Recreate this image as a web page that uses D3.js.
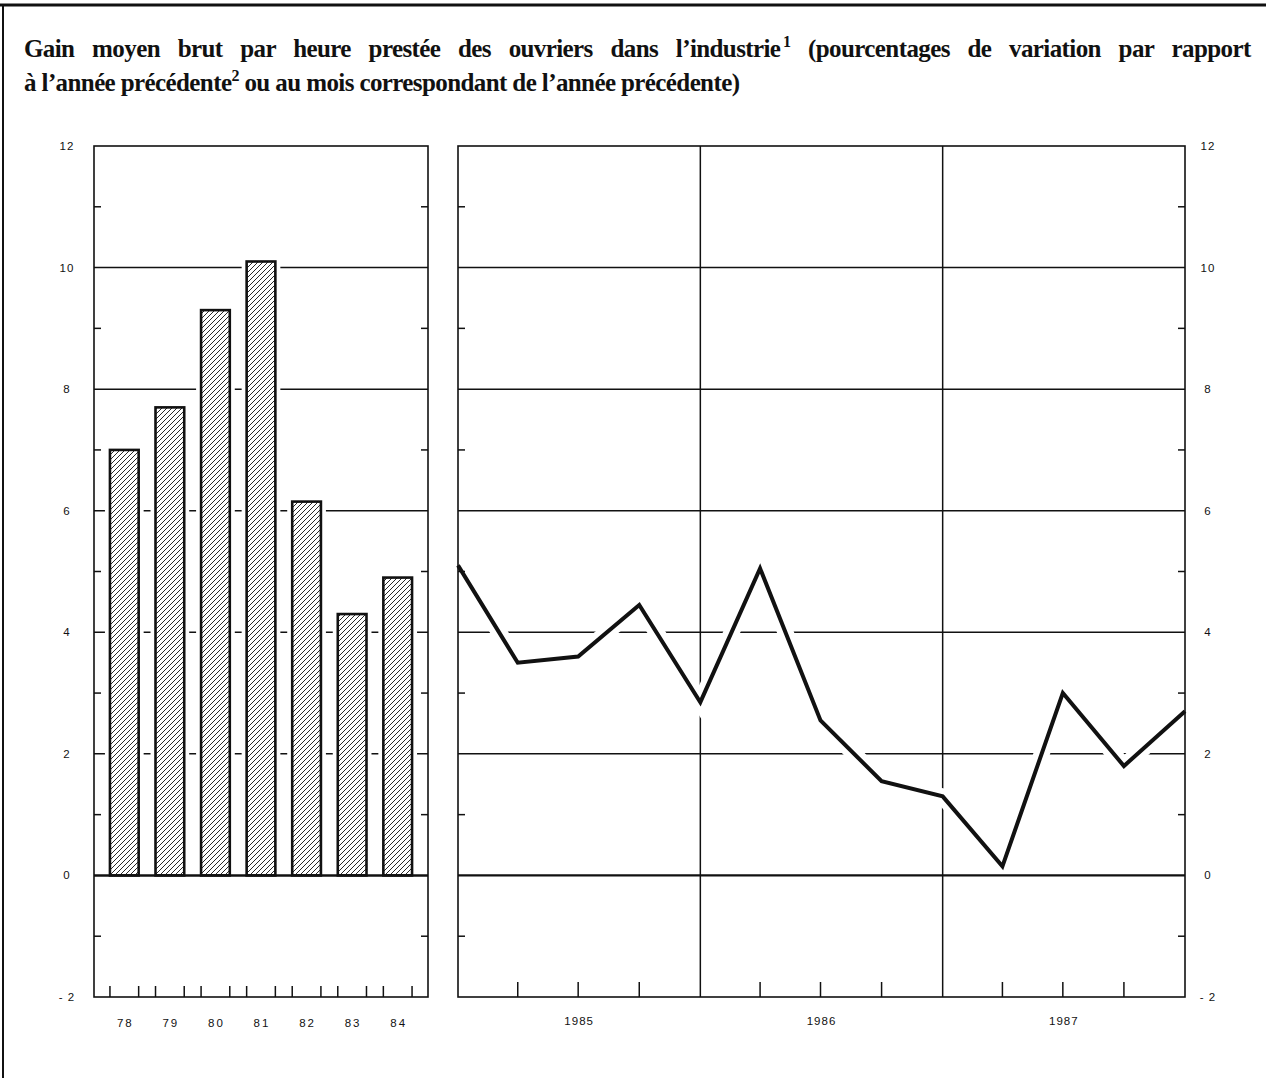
<!DOCTYPE html>
<html>
<head>
<meta charset="utf-8">
<script src="https://cdn.jsdelivr.net/npm/d3@7"></script>
<style>
  body { margin: 0; background: #fff; }
  text { fill: #111; }
</style>
</head>
<body>
<script>
// data
var barYears = ['78', '79', '80', '81', '82', '83', '84']
var barValues = [7.0, 7.7, 9.3, 10.1, 6.15, 4.3, 4.9]

var lineDates = ['1985-01', '1985-04', '1985-07', '1985-10', '1986-01', '1986-04', '1986-07',
  '1986-10', '1987-01', '1987-04', '1987-07', '1987-10', '1988-01']
var lineValues = [5.1, 3.5, 3.6, 4.45, 2.85, 5.05, 2.55, 1.55, 1.3, 0.15, 3.0, 1.8, 2.7]

var lineYears = ['1985', '1986', '1987']
var yTicks = [-2, 0, 2, 4, 6, 8, 10, 12]
var yMinor = [-1, 1, 3, 5, 7, 9, 11]
var yGrid = [2, 4, 6, 8, 10]

var parse = d3.timeParse('%Y-%m')

var width = 1266
var height = 1078
var plotTop = 146
var plotBottom = 997
var left1 = 94, right1 = 428
var left2 = 458, right2 = 1185

var svg = d3.select('body').append('svg')
  .attr('width', width)
  .attr('height', height)

// hatch pattern
svg.append('defs').append('pattern')
  .attr('id', 'hatch')
  .attr('patternUnits', 'userSpaceOnUse')
  .attr('width', 5)
  .attr('height', 5)
  .append('path')
  .attr('d', 'M0,5 L5,0 M-1,1 L1,-1 M4,6 L6,4')
  .attr('stroke', '#111')
  .attr('stroke-width', 0.9)

// outer frame
svg.append('line').attr('x1', 0).attr('x2', width).attr('y1', 5).attr('y2', 5)
  .attr('stroke', '#111').attr('stroke-width', 3)
svg.append('line').attr('x1', 3).attr('x2', 3).attr('y1', 5).attr('y2', height)
  .attr('stroke', '#111').attr('stroke-width', 2)

// title
var title = svg.append('g')
  .style('font-family', '"Liberation Serif", "DejaVu Serif", serif')
  .style('font-weight', 'bold')
  .style('font-size', '25px')
  .style('letter-spacing', '-0.6px')

function titleLine (y, parts, target, extra) {
  var t = title.append('text').attr('x', 24).attr('y', y)
  parts.forEach(function (p) {
    if (p.sup) {
      t.append('tspan').attr('dy', -10).style('font-size', '16px').text(p.sup)
      t.append('tspan').attr('dy', 10).text(' ')
    } else {
      t.append('tspan').text(p.text)
    }
  })
  var spaces = t.text().split(' ').length - 1
  var ws = extra
  t.attr('word-spacing', ws)
  if (target) {
    // nudge word spacing until the line ends at the target
    for (var k = 0; k < 4; k++) {
      var w = t.node().getBBox().width
      ws += (target - w) / spaces
      t.attr('word-spacing', ws)
    }
  }
}
titleLine(57, [{ text: 'Gain moyen brut par heure prestée des ouvriers dans l\u2019industrie' }, { sup: '\u20091' },
  { text: '(pourcentages de variation par rapport' }], 1228, 0)
titleLine(91, [{ text: '\u00e0 l\u2019ann\u00e9e pr\u00e9c\u00e9dente' }, { sup: '2' },
  { text: 'ou au mois correspondant de l\u2019ann\u00e9e pr\u00e9c\u00e9dente)' }], null, 0)

// scales
var y = d3.scaleLinear().domain([-2, 12]).range([plotBottom, plotTop])
var xBar = d3.scaleBand().domain(barYears).range([left1, right1])
  .paddingInner(0.37).paddingOuter(0.35)
var xTime = d3.scaleTime().domain([parse('1985-01'), parse('1988-01')]).range([left2, right2])

var labelFont = '"Liberation Sans", Arial, sans-serif'

// ---------------- left panel: bars ----------------
var p1 = svg.append('g')

p1.selectAll('line.grid').data(yGrid).enter().append('line')
  .attr('x1', left1).attr('x2', right1)
  .attr('y1', function (d) { return y(d) }).attr('y2', function (d) { return y(d) })
  .attr('stroke', '#111').attr('stroke-width', 1.5)

// white halo round the bars
p1.selectAll('rect.halo').data(barValues).enter().append('rect')
  .attr('x', function (d, i) { return xBar(barYears[i]) - 5 })
  .attr('width', xBar.bandwidth() + 10)
  .attr('y', function (d) { return y(d) })
  .attr('height', function (d) { return y(0) - y(d) })
  .attr('fill', '#fff')

p1.selectAll('rect.bar').data(barValues).enter().append('rect')
  .attr('x', function (d, i) { return xBar(barYears[i]) })
  .attr('width', xBar.bandwidth())
  .attr('y', function (d) { return y(d) })
  .attr('height', function (d) { return y(0) - y(d) })
  .attr('fill', 'url(#hatch)')
  .attr('stroke', '#111').attr('stroke-width', 2.6)

p1.append('line').attr('x1', left1).attr('x2', right1).attr('y1', y(0)).attr('y2', y(0))
  .attr('stroke', '#111').attr('stroke-width', 2.6)

p1.append('rect').attr('x', left1).attr('y', plotTop)
  .attr('width', right1 - left1).attr('height', plotBottom - plotTop)
  .attr('fill', 'none').attr('stroke', '#111').attr('stroke-width', 1.6)

// minor y ticks on both sides
yMinor.forEach(function (v) {
  p1.append('line').attr('x1', left1).attr('x2', left1 + 7).attr('y1', y(v)).attr('y2', y(v))
    .attr('stroke', '#111').attr('stroke-width', 1.5)
  p1.append('line').attr('x1', right1 - 7).attr('x2', right1).attr('y1', y(v)).attr('y2', y(v))
    .attr('stroke', '#111').attr('stroke-width', 1.5)
})

// bottom ticks at bar edges
barYears.forEach(function (d) {
  [xBar(d), xBar(d) + xBar.bandwidth()].forEach(function (x) {
    p1.append('line').attr('x1', x).attr('x2', x).attr('y1', plotBottom).attr('y2', plotBottom - 11)
      .attr('stroke', '#111').attr('stroke-width', 1.5)
  })
})

p1.selectAll('text.ylab').data(yTicks).enter().append('text')
  .attr('x', 67).attr('y', function (d) { return y(d) }).attr('dy', '0.35em')
  .attr('text-anchor', 'middle')
  .style('font-family', labelFont).style('font-size', '11.5px').style('letter-spacing', '1px')
  .text(function (d) { return d < 0 ? '- ' + Math.abs(d) : d })

p1.selectAll('text.xlab').data(barYears).enter().append('text')
  .attr('x', function (d) { return xBar(d) + xBar.bandwidth() / 2 + 1 }).attr('y', 1027)
  .attr('text-anchor', 'middle')
  .style('font-family', labelFont).style('font-size', '11.5px').style('letter-spacing', '2px')
  .text(function (d) { return d })

// ---------------- right panel: line ----------------
var p2 = svg.append('g')

p2.selectAll('line.grid').data(yGrid).enter().append('line')
  .attr('x1', left2).attr('x2', right2)
  .attr('y1', function (d) { return y(d) }).attr('y2', function (d) { return y(d) })
  .attr('stroke', '#111').attr('stroke-width', 1.5)

var yearStarts = lineYears.map(function (d) { return parse(d + '-01') })
yearStarts.slice(1).forEach(function (d) {
  p2.append('line').attr('x1', xTime(d)).attr('x2', xTime(d)).attr('y1', plotTop).attr('y2', plotBottom)
    .attr('stroke', '#111').attr('stroke-width', 1.5)
})

var line = d3.line()
  .x(function (d, i) { return xTime(parse(lineDates[i])) })
  .y(function (d) { return y(d) })

p2.append('path').datum(lineValues)
  .attr('d', line)
  .attr('fill', 'none').attr('stroke', '#fff').attr('stroke-width', 16)

p2.append('line').attr('x1', left2).attr('x2', right2).attr('y1', y(0)).attr('y2', y(0))
  .attr('stroke', '#111').attr('stroke-width', 2.2)

p2.append('rect').attr('x', left2).attr('y', plotTop)
  .attr('width', right2 - left2).attr('height', plotBottom - plotTop)
  .attr('fill', 'none').attr('stroke', '#111').attr('stroke-width', 1.6)

yMinor.forEach(function (v) {
  p2.append('line').attr('x1', left2).attr('x2', left2 + 7).attr('y1', y(v)).attr('y2', y(v))
    .attr('stroke', '#111').attr('stroke-width', 1.5)
  p2.append('line').attr('x1', right2 - 7).attr('x2', right2).attr('y1', y(v)).attr('y2', y(v))
    .attr('stroke', '#111').attr('stroke-width', 1.5)
})

// quarter ticks along the bottom
lineDates.forEach(function (d) {
  var dt = parse(d)
  if (dt.getMonth() === 0) return
  p2.append('line').attr('x1', xTime(dt)).attr('x2', xTime(dt)).attr('y1', plotBottom).attr('y2', plotBottom - 15)
    .attr('stroke', '#111').attr('stroke-width', 1.5)
})

p2.append('path').datum(lineValues)
  .attr('d', line)
  .attr('fill', 'none').attr('stroke', '#111').attr('stroke-width', 4)
  .attr('stroke-linejoin', 'miter')

p2.selectAll('text.ylab').data(yTicks).enter().append('text')
  .attr('x', 1208).attr('y', function (d) { return y(d) }).attr('dy', '0.35em')
  .attr('text-anchor', 'middle')
  .style('font-family', labelFont).style('font-size', '11.5px').style('letter-spacing', '1px')
  .text(function (d) { return d < 0 ? '- ' + Math.abs(d) : d })

p2.selectAll('text.xlab').data(lineYears).enter().append('text')
  .attr('x', function (d) {
    var a = parse(d + '-01'); var b = parse((+d + 1) + '-01')
    return (xTime(a) + xTime(b)) / 2
  })
  .attr('y', 1025)
  .attr('text-anchor', 'middle')
  .style('font-family', labelFont).style('font-size', '11.5px').style('letter-spacing', '1px')
  .text(function (d) { return d })
</script>
</body>
</html>
